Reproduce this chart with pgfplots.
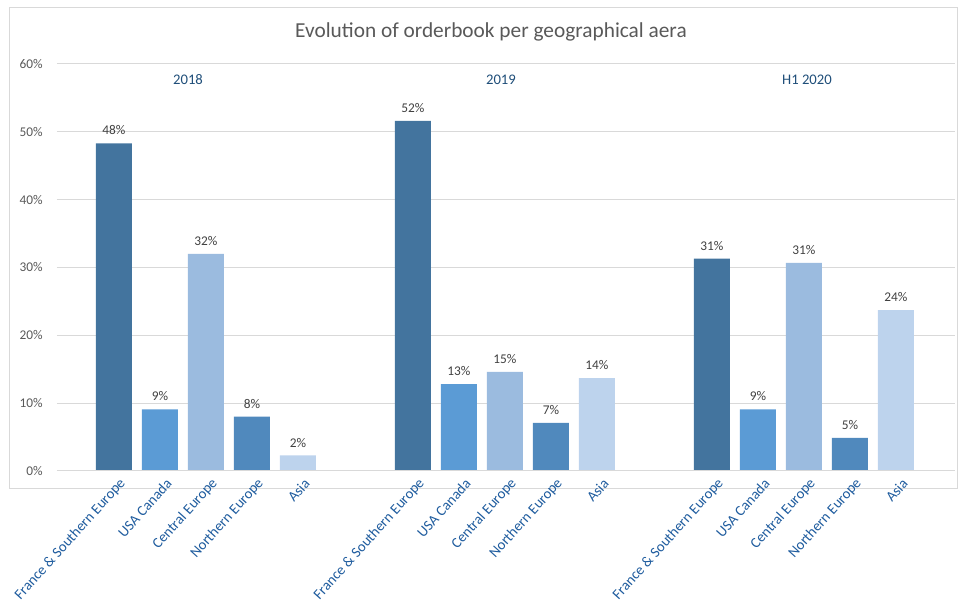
\documentclass[border=0pt]{standalone}
\usepackage{pgfplots}
\pgfplotsset{compat=1.18}
\usepackage{fontspec}
\setmainfont{Carlito}

\definecolor{cFrance}{RGB}{67,116,158}
\definecolor{cUSA}{RGB}{91,155,213}
\definecolor{cCentral}{RGB}{155,187,223}
\definecolor{cNorth}{RGB}{80,137,189}
\definecolor{cAsia}{RGB}{189,211,237}
\definecolor{gridgray}{RGB}{217,217,217}
\definecolor{ticktext}{RGB}{89,89,89}
\definecolor{labtext}{RGB}{64,64,64}
\definecolor{xlab}{RGB}{31,92,158}
\definecolor{catlab}{RGB}{31,78,121}

\begin{document}
\begin{tikzpicture}
% 1px = 0.75pt; axis box lower-left at (0,0)
\useasboundingbox (-42.75pt,-101.25pt) rectangle (677.25pt,353.25pt);
\draw[gridgray, line width=0.75pt] (-35.8pt,-13pt) rectangle (675.5pt,347.8pt);
\node[text=ticktext, font=\fontsize{16}{18}\selectfont] at (325.5pt,329.25pt) {Evolution of orderbook per geographical aera};
\begin{axis}[
    scale only axis,
    width=673.5pt, height=305.25pt,
    xmin=-1.239, xmax=18.283,
    ymin=0, ymax=60,
    ybar, bar width=27pt, bar shift=0pt,
    axis line style={draw=none},
    ytick={0,10,...,60},
    yticklabel={\pgfmathprintnumber{\tick}\%},
    /pgf/number format/assume math mode=true,
    ymajorgrids, grid style={gridgray, line width=0.75pt},
    major tick length=0pt,
    yticklabel style={text=ticktext, font=\fontsize{10}{12}\selectfont, inner sep=0pt, xshift=-10.5pt},
    xtick={0,1,2,3,4,6.5,7.5,8.5,9.5,10.5,13,14,15,16,17},
    xticklabels={France \& Southern Europe, USA Canada, Central Europe, Northern Europe, Asia,
                 France \& Southern Europe, USA Canada, Central Europe, Northern Europe, Asia,
                 France \& Southern Europe, USA Canada, Central Europe, Northern Europe, Asia},
    xticklabel style={rotate=48, anchor=east, text=xlab, font=\fontsize{11}{13}\selectfont, inner sep=0pt, xshift=-1pt, yshift=-10pt},
    nodes near coords,
    point meta=explicit symbolic,
    every node near coord/.append style={text=labtext, font=\fontsize{10}{12}\selectfont, anchor=south, inner sep=0pt, yshift=6pt},
    clip=false,
]
\addplot[fill=cFrance, draw=none] coordinates {(0,48.3) [48\%] (6.5,51.6) [52\%] (13,31.3) [31\%]};
\addplot[fill=cUSA, draw=none] coordinates {(1,9.1) [9\%] (7.5,12.8) [13\%] (14,9.1) [9\%]};
\addplot[fill=cCentral, draw=none] coordinates {(2,32.0) [32\%] (8.5,14.6) [15\%] (15,30.7) [31\%]};
\addplot[fill=cNorth, draw=none] coordinates {(3,8.0) [8\%] (9.5,7.1) [7\%] (16,4.9) [5\%]};
\addplot[fill=cAsia, draw=none] coordinates {(4,2.3) [2\%] (10.5,13.7) [14\%] (17,23.7) [24\%]};
\draw[gridgray, line width=0.75pt] (axis cs:-1.239,0) -- (axis cs:18.283,0);
\node[text=catlab, font=\fontsize{11}{13}\selectfont] at (axis cs:1.609,57.7) {2018};
\node[text=catlab, font=\fontsize{11}{13}\selectfont] at (axis cs:8.413,57.7) {2019};
\node[text=catlab, font=\fontsize{11}{13}\selectfont] at (axis cs:15.065,57.7) {H1 2020};
\end{axis}
\end{tikzpicture}
\end{document}
